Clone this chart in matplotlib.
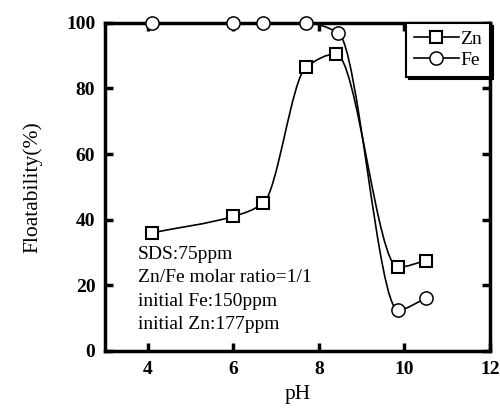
import numpy as np
import matplotlib.pyplot as plt
from matplotlib.path import Path
from matplotlib.patches import PathPatch

plt.rcParams['font.family'] = ['Liberation Serif', 'DejaVu Serif']

# data
ph_zn = [4.1, 6.0, 6.7, 7.7, 8.4, 9.85, 10.5]
float_zn = [36, 41, 45, 86.5, 90.5, 25.5, 27.5]
ph_fe = [4.1, 6.0, 6.7, 7.7, 8.45, 9.85, 10.5]
float_fe = [100, 100, 100, 100, 97, 12.5, 16]

xticks = [4, 6, 8, 10, 12]
yticks = [0, 20, 40, 60, 80, 100]
notes = ['SDS:75ppm', 'Zn/Fe molar ratio=1/1', 'initial Fe:150ppm', 'initial Zn:177ppm']


def smooth_path(x, y):
    # monotone cubic (Fritsch-Carlson) tangents, drawn as bezier segments
    x = np.asarray(x, float)
    y = np.asarray(y, float)
    h = np.diff(x)
    d = np.diff(y) / h
    m = np.zeros_like(y)
    m[0], m[-1] = d[0], d[-1]
    for i in range(1, len(x) - 1):
        if d[i - 1] * d[i] > 0:
            w1 = 2 * h[i] + h[i - 1]
            w2 = h[i] + 2 * h[i - 1]
            m[i] = (w1 + w2) / (w1 / d[i - 1] + w2 / d[i])
    verts = [(x[0], y[0])]
    codes = [Path.MOVETO]
    for i in range(len(x) - 1):
        verts += [(x[i] + h[i] / 3, y[i] + m[i] * h[i] / 3),
                  (x[i + 1] - h[i] / 3, y[i + 1] - m[i + 1] * h[i] / 3),
                  (x[i + 1], y[i + 1])]
        codes += [Path.CURVE4] * 3
    return Path(verts, codes)


fig = plt.figure(figsize=(5, 4.08), dpi=100)
ax = fig.add_axes([0.21, 0.14, 0.77, 0.804])

for x, y in [(ph_zn, float_zn), (ph_fe, float_fe)]:
    ax.add_patch(PathPatch(smooth_path(x, y), fill=False, lw=1.2, ec='black', zorder=2))

ax.plot(ph_zn, float_zn, ls='none', marker='s', ms=9, mfc='white', mec='black',
        mew=1.5, clip_on=False, zorder=3)
ax.plot(ph_fe, float_fe, ls='none', marker='o', ms=9.5, mfc='white', mec='black',
        mew=1.1, clip_on=False, zorder=3)

# legend handles
hz, = ax.plot([], [], '-', color='black', lw=1.2, marker='s', ms=9, mfc='white', mec='black', mew=1.5)
hf, = ax.plot([], [], '-', color='black', lw=1.2, marker='o', ms=9.5, mfc='white', mec='black', mew=1.1)
leg = ax.legend([hz, hf], ['Zn', 'Fe'], loc='upper right', bbox_to_anchor=(1.0, 1.0),
                fontsize=14, handlelength=2.3, handletextpad=0.1, borderpad=0.4,
                labelspacing=0.15, borderaxespad=0.0, fancybox=False, framealpha=1,
                edgecolor='black', shadow={'color': 'black', 'alpha': 1, 'ox': 2, 'oy': -2})
leg.get_frame().set_linewidth(1.5)

for i, t in enumerate(notes):
    ax.text(3.77, 28.0 - i * 7.1, t, fontsize=14, va='baseline', ha='left')

ax.set_xlim(3, 12)
ax.set_ylim(0, 100)
ax.set_xticks(xticks)
ax.set_yticks(yticks)
ax.tick_params(direction='in', top=True, right=True, labeltop=False, labelright=False,
               length=6, width=2.5, labelsize=14, pad=7)
for lab in ax.get_xticklabels() + ax.get_yticklabels():
    lab.set_fontweight('bold')
for s in ax.spines.values():
    s.set_linewidth(2.5)

ax.set_xlabel('pH', fontsize=15.5, labelpad=5)
ax.set_ylabel('Floatability(%)', fontsize=15.5, labelpad=17)

fig.savefig('out.png', dpi=100)
